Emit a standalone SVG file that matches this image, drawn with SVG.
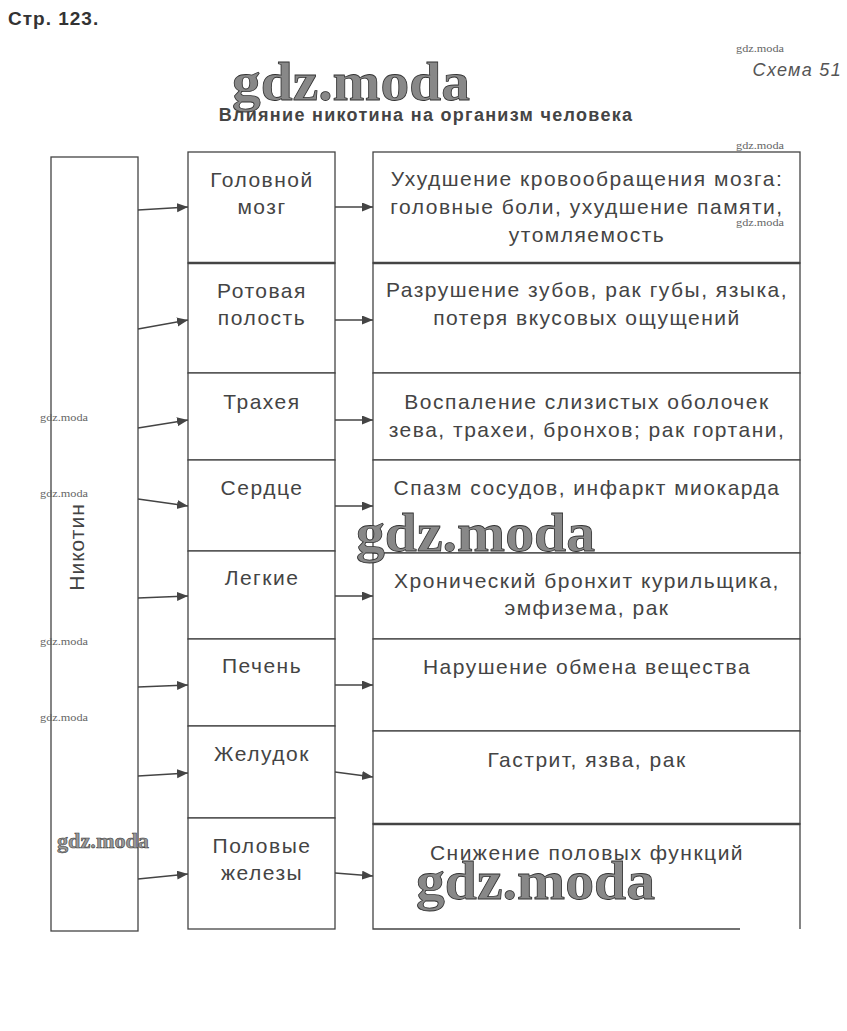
<svg xmlns="http://www.w3.org/2000/svg" width="847" height="1031" viewBox="0 0 847 1031">
<style>
.box{fill:#fff;stroke:#444;stroke-width:1.3}
.thick{stroke:#444;stroke-width:2.6}
.t{font-family:"Liberation Sans",Arial,sans-serif;font-size:21px;letter-spacing:1.5px;fill:#444;text-anchor:middle}
.conn{stroke:#444;stroke-width:1.3;fill:none}
.wm{font-family:"Liberation Serif","Times New Roman",serif;font-weight:bold;fill:#888;stroke:#333;stroke-width:0.8}
.wms{font-family:"Liberation Serif","Times New Roman",serif;fill:#666;font-size:10px}
</style>
<defs>
<marker id="ah" markerUnits="userSpaceOnUse" markerWidth="12" markerHeight="10" refX="11" refY="4.5" orient="auto">
<path d="M0,0 L11,4.5 L0,9 z" fill="#444"/>
</marker>
<clipPath id="c3"><rect x="373" y="373" width="427" height="81"/></clipPath>
</defs>
<rect width="847" height="1031" fill="#fff"/>
<text x="8" y="25" style="font-family:'Liberation Sans',Arial,sans-serif;font-size:19px;letter-spacing:1px;font-weight:bold;fill:#333">Стр. 123.</text>
<text x="842" y="76" text-anchor="end" style="font-family:'Liberation Sans',Arial,sans-serif;font-size:18px;letter-spacing:1.3px;font-style:italic;fill:#555">Схема 51</text>
<text x="426" y="121" text-anchor="middle" style="font-family:'Liberation Sans',Arial,sans-serif;font-size:18px;letter-spacing:1.3px;font-weight:bold;fill:#444">Влияние никотина на организм человека</text>

<g id="nicotine">
<rect class="box" x="51" y="157" width="87" height="774"/>
<text class="t" transform="translate(84,547) rotate(-90)" style="letter-spacing:1px">Никотин</text>
</g>

<g id="organs">
<g id="o1"><rect class="box" x="188" y="152" width="147" height="111"/><text class="t" x="262" y="187">Головной</text><text class="t" x="262" y="214">мозг</text></g>
<g id="o2"><rect class="box" x="188" y="263" width="147" height="110"/><text class="t" x="262" y="298">Ротовая</text><text class="t" x="262" y="325">полость</text></g>
<g id="o3"><rect class="box" x="188" y="373" width="147" height="87"/><text class="t" x="262" y="409">Трахея</text></g>
<g id="o4"><rect class="box" x="188" y="460" width="147" height="91"/><text class="t" x="262" y="495">Сердце</text></g>
<g id="o5"><rect class="box" x="188" y="551" width="147" height="88"/><text class="t" x="262" y="585">Легкие</text></g>
<g id="o6"><rect class="box" x="188" y="639" width="147" height="87"/><text class="t" x="262" y="673">Печень</text></g>
<g id="o7"><rect class="box" x="188" y="726" width="147" height="92"/><text class="t" x="262" y="761">Желудок</text></g>
<g id="o8"><rect class="box" x="188" y="818" width="147" height="111"/><text class="t" x="262" y="853">Половые</text><text class="t" x="262" y="880">железы</text></g>
<line class="thick" x1="188" y1="263" x2="335" y2="263"/>
</g>

<g id="effects">
<g id="e1"><rect class="box" x="373" y="152" width="427" height="111"/><text class="t" x="587" y="186">Ухудшение кровообращения мозга:</text><text class="t" x="587" y="214">головные боли, ухудшение памяти,</text><text class="t" x="587" y="242">утомляемость</text></g>
<g id="e2"><rect class="box" x="373" y="263" width="427" height="110"/><text class="t" x="587" y="297">Разрушение зубов, рак губы, языка,</text><text class="t" x="587" y="325">потеря вкусовых ощущений</text></g>
<g id="e3"><rect class="box" x="373" y="373" width="427" height="87"/><g clip-path="url(#c3)"><text class="t" x="587" y="409">Воспаление слизистых оболочек</text><text class="t" x="587" y="437">зева, трахеи, бронхов; рак гортани,</text><text class="t" x="587" y="465">трахеи</text></g></g>
<g id="e4"><rect class="box" x="373" y="460" width="427" height="93"/><text class="t" x="587" y="495">Спазм сосудов, инфаркт миокарда</text></g>
<g id="e5"><rect class="box" x="373" y="553" width="427" height="86"/><text class="t" x="587" y="588">Хронический бронхит курильщика,</text><text class="t" x="587" y="615">эмфизема, рак</text></g>
<g id="e6"><rect class="box" x="373" y="639" width="427" height="92"/><text class="t" x="587" y="674">Нарушение обмена вещества</text></g>
<g id="e7"><rect class="box" x="373" y="731" width="427" height="93"/><text class="t" x="587" y="767">Гастрит, язва, рак</text></g>
<g id="e8"><path class="conn" d="M740,929 H373 V824 H800 V929"/><text class="t" x="587" y="860">Снижение половых функций</text></g>
<line class="thick" x1="373" y1="263" x2="800" y2="263"/>
<line class="thick" x1="373" y1="824" x2="800" y2="824"/>
</g>

<g id="connectors">
<line class="conn" marker-end="url(#ah)" x1="138" y1="210" x2="188" y2="207"/>
<line class="conn" marker-end="url(#ah)" x1="138" y1="329" x2="188" y2="320"/>
<line class="conn" marker-end="url(#ah)" x1="138" y1="428" x2="188" y2="420"/>
<line class="conn" marker-end="url(#ah)" x1="138" y1="499" x2="188" y2="506"/>
<line class="conn" marker-end="url(#ah)" x1="138" y1="598" x2="188" y2="596"/>
<line class="conn" marker-end="url(#ah)" x1="138" y1="687" x2="188" y2="685"/>
<line class="conn" marker-end="url(#ah)" x1="138" y1="776" x2="188" y2="773"/>
<line class="conn" marker-end="url(#ah)" x1="138" y1="879" x2="188" y2="874"/>
<line class="conn" marker-end="url(#ah)" x1="335" y1="207" x2="373" y2="207"/>
<line class="conn" marker-end="url(#ah)" x1="335" y1="320" x2="373" y2="320"/>
<line class="conn" marker-end="url(#ah)" x1="335" y1="420" x2="373" y2="420"/>
<line class="conn" marker-end="url(#ah)" x1="335" y1="506" x2="373" y2="506"/>
<line class="conn" marker-end="url(#ah)" x1="335" y1="596" x2="373" y2="596"/>
<line class="conn" marker-end="url(#ah)" x1="335" y1="685" x2="373" y2="685"/>
<line class="conn" marker-end="url(#ah)" x1="335" y1="772" x2="373" y2="777"/>
<line class="conn" marker-end="url(#ah)" x1="335" y1="873" x2="373" y2="876"/>
</g>

<g id="watermarks">
<text class="wm" x="232" y="100" font-size="54" textLength="238" lengthAdjust="spacingAndGlyphs">gdz.moda</text>
<text class="wm" x="356" y="551" font-size="54" textLength="239" lengthAdjust="spacingAndGlyphs">gdz.moda</text>
<text class="wm" x="416" y="899" font-size="54" textLength="239" lengthAdjust="spacingAndGlyphs">gdz.moda</text>
<text class="wm" style="stroke-width:0.5;fill:#999" x="57" y="848" font-size="20" textLength="92" lengthAdjust="spacingAndGlyphs">gdz.moda</text>
<text class="wms" x="736" y="52" textLength="48" lengthAdjust="spacingAndGlyphs">gdz.moda</text>
<text class="wms" x="736" y="149" textLength="48" lengthAdjust="spacingAndGlyphs">gdz.moda</text>
<text class="wms" x="736" y="226" textLength="48" lengthAdjust="spacingAndGlyphs">gdz.moda</text>
<text class="wms" x="40" y="421" textLength="48" lengthAdjust="spacingAndGlyphs">gdz.moda</text>
<text class="wms" x="40" y="497" textLength="48" lengthAdjust="spacingAndGlyphs">gdz.moda</text>
<text class="wms" x="40" y="645" textLength="48" lengthAdjust="spacingAndGlyphs">gdz.moda</text>
<text class="wms" x="40" y="721" textLength="48" lengthAdjust="spacingAndGlyphs">gdz.moda</text>
</g>
</svg>
